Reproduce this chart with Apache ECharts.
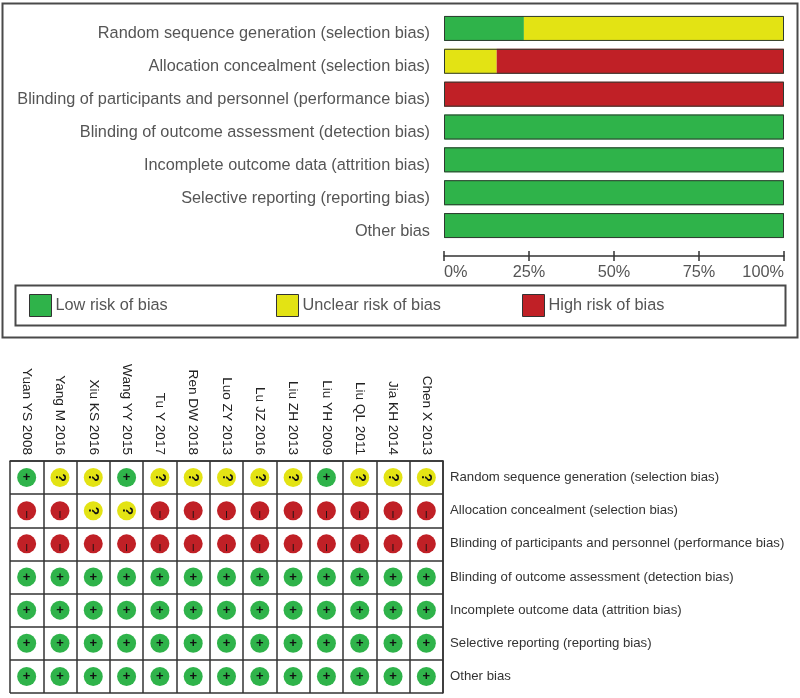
<!DOCTYPE html>
<html><head><meta charset="utf-8">
<style>html,body{margin:0;padding:0;background:#fff}#c{width:800px;height:698px;filter:blur(0.45px)}</style>
<script src="https://cdn.jsdelivr.net/npm/echarts@6/dist/echarts.min.js"></script></head>
<body><div id="c"></div>
<script>
const domains=["Random sequence generation (selection bias)","Allocation concealment (selection bias)","Blinding of participants and personnel (performance bias)","Blinding of outcome assessment (detection bias)","Incomplete outcome data (attrition bias)","Selective reporting (reporting bias)","Other bias"];
const lowRisk=[23.5,0,0,100,100,100,100];
const unclearRisk=[76.5,15.5,0,0,0,0,0];
const highRisk=[0,84.5,100,0,0,0,0];
const outlineTotal=[100,100,100,100,100,100,100];
const studies=["Yuan YS 2008","Yang M 2016","Xiu KS 2016","Wang YY 2015","Tu Y 2017","Ren DW 2018","Luo ZY 2013","Lu JZ 2016","Liu ZH 2013","Liu YH 2009","Liu QL 2011","Jia KH 2014","Chen X 2013"];
const judgements=[
["+","?","?","+","?","?","?","?","?","+","?","?","?"],
["-","-","?","?","-","-","-","-","-","-","-","-","-"],
["-","-","-","-","-","-","-","-","-","-","-","-","-"],
["+","+","+","+","+","+","+","+","+","+","+","+","+"],
["+","+","+","+","+","+","+","+","+","+","+","+","+"],
["+","+","+","+","+","+","+","+","+","+","+","+","+"],
["+","+","+","+","+","+","+","+","+","+","+","+","+"]];
const GREEN='#2fb34a',YELLOW='#e3e314',RED='#c02026',INK='#555',EDGE='#2e3a30';
const FONT='"Liberation Sans",Arial,sans-serif';
const names={low:"Low risk of bias",unclear:"Unclear risk of bias",high:"High risk of bias"};
const bar=(name,data,color)=>({name,type:'bar',stack:'r',xAxisIndex:0,yAxisIndex:0,barWidth:25,barGap:'-100%',data:data.map(v=>v===0?null:v),
  itemStyle:{color,borderWidth:0}});
const fillOf={'+':GREEN,'?':YELLOW,'-':RED};
const cells=[];
judgements.forEach((row,r)=>row.forEach((j,c)=>cells.push({value:[c,r],itemStyle:{color:fillOf[j],opacity:1},
  label:{formatter:j==='-'?'|':j,rotate:j==='?'?-90:0,fontSize:j==='-'?7:(j==='?'?14:13),fontWeight:'bold',offset:j==='-'?[0,3]:[0,0]}})));
const legendAt=(left,name)=>({left,top:294,data:[name],icon:'rect',itemWidth:22,itemHeight:22,itemGap:0,selectedMode:false,padding:0,
  itemStyle:{borderColor:'#333',borderWidth:1},
  textStyle:{color:INK,fontFamily:FONT,fontSize:16.3,verticalAlign:'top',lineHeight:14,padding:[0,0,0,-1]}});
const chart=echarts.init(document.getElementById('c'));
chart.setOption({animation:false,backgroundColor:'#fff',
 graphic:[
  {type:'rect',z:-1,shape:{x:2.5,y:3.5,width:795,height:334},style:{fill:'#fff',stroke:'#4a4a4a',lineWidth:2}},
  {type:'rect',z:-1,shape:{x:15.5,y:285.5,width:770,height:40},style:{fill:'#fff',stroke:'#4a4a4a',lineWidth:2}}],
 legend:[legendAt(29,names.low),legendAt(276,names.unclear),legendAt(522,names.high)],
 grid:[{left:444,top:12,width:340,height:230},{left:10,top:461,width:433,height:232}],
 xAxis:[
  {gridIndex:0,type:'value',min:0,max:100,interval:25,position:'bottom',offset:14,
   axisLine:{show:true,lineStyle:{color:'#333',width:1.5}},axisTick:{show:true,length:5,lineStyle:{color:'#333',width:1.5}},splitLine:{show:false},
   axisLabel:{margin:9,color:INK,fontFamily:FONT,fontSize:16.3,alignMinLabel:'left',alignMaxLabel:'right',formatter:'{value}%'}},
  {gridIndex:0,type:'value',min:0,max:100,interval:25,position:'bottom',offset:14,
   axisLine:{show:false},axisTick:{show:true,inside:true,length:5,lineStyle:{color:'#333',width:1.5}},splitLine:{show:false},axisLabel:{show:false}},
  {gridIndex:1,type:'category',data:studies,position:'top',
   axisLine:{show:true,lineStyle:{color:'#333',width:1.5}},axisTick:{show:false},
   splitLine:{show:true,lineStyle:{color:'#333',width:1.5}},
   axisLabel:{interval:0,rotate:90,margin:6,color:'#222',fontFamily:FONT,fontSize:13.6,align:'right',verticalAlign:'middle'}}],
 yAxis:[
  {gridIndex:0,type:'category',inverse:true,data:domains,axisLine:{show:false},axisTick:{show:false},
   axisLabel:{interval:0,margin:14,color:INK,fontFamily:FONT,fontSize:16.3,verticalAlign:'top',lineHeight:11}},
  {gridIndex:1,type:'category',inverse:true,data:domains,position:'right',
   axisLine:{show:true,lineStyle:{color:'#333',width:1.5}},axisTick:{show:false},
   splitLine:{show:true,lineStyle:{color:'#333',width:1.5}},
   axisLabel:{interval:0,margin:7,color:'#333',fontFamily:FONT,fontSize:13.2}}],
 series:[
  bar(names.low,lowRisk,GREEN),bar(names.unclear,unclearRisk,YELLOW),bar(names.high,highRisk,RED),
  {type:'bar',stack:'outline',xAxisIndex:0,yAxisIndex:0,barWidth:25,barGap:'-100%',z:5,data:outlineTotal,silent:true,
   itemStyle:{color:'transparent',borderColor:EDGE,borderWidth:1}},
  {type:'scatter',xAxisIndex:2,yAxisIndex:1,symbol:'circle',symbolSize:19,data:cells,silent:true,
   label:{show:true,position:'inside',color:'#111',fontFamily:FONT}}]
});
</script></body></html>
